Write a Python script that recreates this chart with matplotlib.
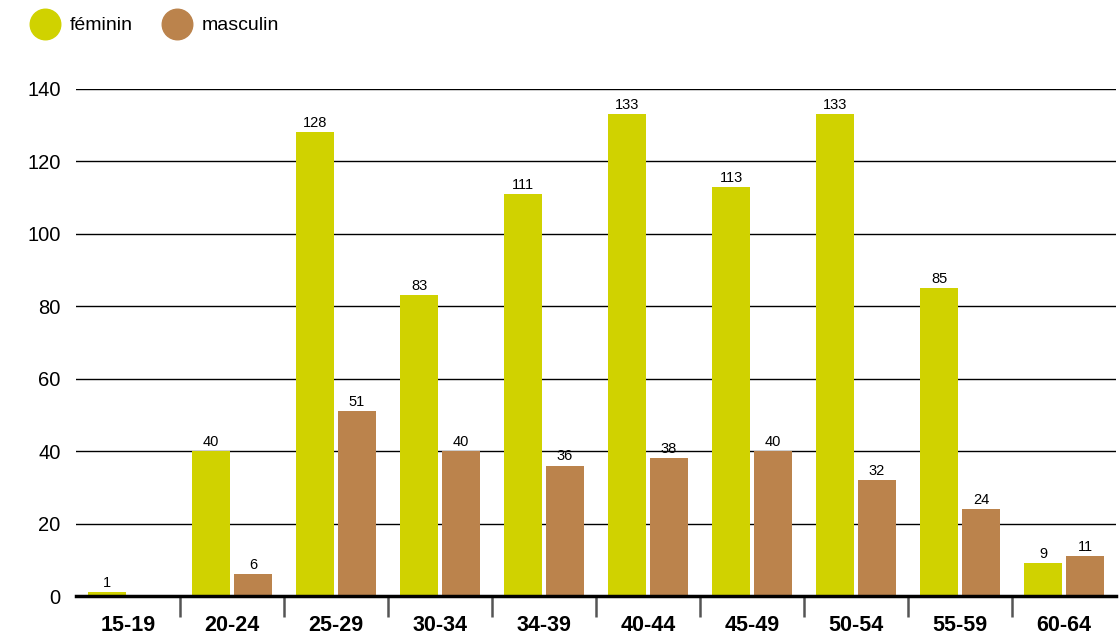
import numpy as np
import matplotlib.pyplot as plt
from matplotlib.lines import Line2D

plt.rcParams['font.family'] = ['Liberation Sans', 'DejaVu Sans']

# Age groups and counts per sex
groupes = ['15-19', '20-24', '25-29', '30-34', '34-39', '40-44', '45-49', '50-54', '55-59', '60-64']
feminin = [1, 40, 128, 83, 111, 133, 113, 133, 85, 9]
masculin = [0, 6, 51, 40, 36, 38, 40, 32, 24, 11]

col_f = '#d0d200'
col_m = '#bb834c'

fig = plt.figure(figsize=(11.19, 6.39), dpi=100)
ax = fig.add_axes([76/1119, 1 - 596/639, 1040/1119, (596 - 89)/639])

x = np.arange(len(groupes))
w = 0.365
gap = 0.038
xf = x - gap/2 - w/2
xm = x + gap/2 + w/2

bf = ax.bar(xf, feminin, width=w, color=col_f, zorder=3)
bm = ax.bar(xm, masculin, width=w, color=col_m, zorder=3)

for rect, v in zip(bf, feminin):
    ax.text(rect.get_x() + rect.get_width()/2, v + 0.6, str(v),
            ha='center', va='bottom', fontsize=10.5)
for rect, v in zip(bm, masculin):
    if v > 0:
        ax.text(rect.get_x() + rect.get_width()/2, v + 0.6, str(v),
                ha='center', va='bottom', fontsize=10.5)

ax.set_xlim(-0.5, len(groupes) - 0.5)
ax.set_ylim(0, 140)
ax.set_yticks(range(0, 141, 20))
ax.yaxis.grid(True, color='black', lw=1, zorder=0)
ax.tick_params(axis='y', length=0, pad=11, labelsize=14.5)

# category labels centred, separator ticks between groups
ax.set_xticks(x)
ax.set_xticklabels(groupes, fontsize=15.5, fontweight='bold')
ax.tick_params(axis='x', which='major', length=0, pad=14)
ax.set_xticks(x[1:] - 0.5, minor=True)
ax.tick_params(axis='x', which='minor', length=15, width=1.8, color='#555555')

for s in ['top', 'right', 'left']:
    ax.spines[s].set_visible(False)
ax.spines['bottom'].set_linewidth(2.5)
ax.spines['bottom'].set_zorder(4)

handles = [Line2D([], [], marker='o', ls='', ms=22, color=col_f),
           Line2D([], [], marker='o', ls='', ms=22, color=col_m)]
fig.legend(handles, ['féminin', 'masculin'], loc='upper left',
           bbox_to_anchor=(0.011, 0.995), ncol=2, frameon=False, fontsize=14,
           handletextpad=0.25, columnspacing=1.3, borderaxespad=0.3)

fig.savefig('out.png', dpi=100)
